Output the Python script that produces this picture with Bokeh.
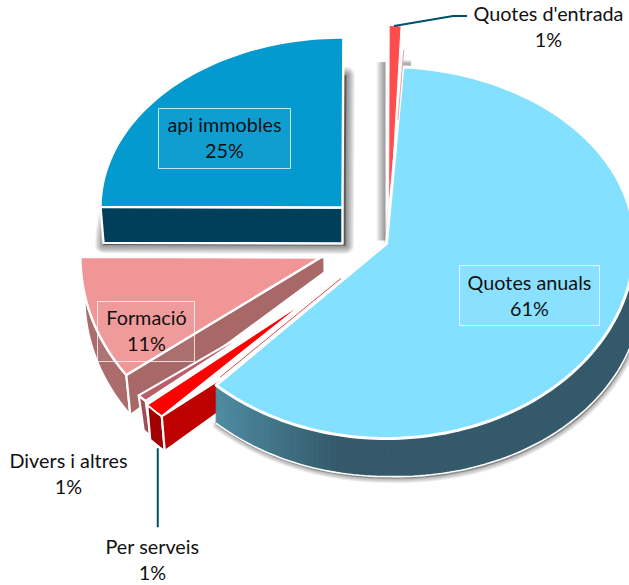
import math
from bokeh.plotting import figure
from bokeh.models import Range1d
from bokeh.core.properties import value
from bokeh.embed import file_html
from bokeh.resources import INLINE

# ---- data -----------------------------------------------------------------
categories = ["Quotes anuals", "Per serveis", "Divers i altres", "Formació", "api immobles", "Quotes d'entrada"]
shares = [61, 1, 1, 11, 25, 1]
top_colors = ["#84E0FF", "#FF0000", "#B8606A", "#F09696", "#0499CF", "#FF4D4D"]
side_colors = ["#33596A", "#BE0000", "#A04F58", "#A86868", "#003F5A", "#C03A3A"]
rim_colors = ["#33596A", "#A00000", "#A04F58", "#AC6C6C", "#003F5A", "#C03A3A"]
label_texts = ["Quotes anuals", "Per serveis", "Divers i altres", "Formació", "api immobles", "Quotes d'entrada"]
start_angle = 3.8

# ---- layout (reference pixels) --------------------------------------------
W, H = 629, 585
geo = {
    "Quotes anuals":    dict(c=(386, 243), rx=248, rb=177, rf=195, d=38, sx=0, ad=38),
    "Per serveis":      dict(c=(309, 298), rx=215, rb=160, rf=162, d=35, sx=3, ad=23, face=(307, 323), hi=2),
    "Divers i altres":  dict(c=(268, 320), rx=168, rb=120, rf=118, d=35, sx=5, ad=10),
    "Formació":         dict(c=(320, 257), rx=240, rb=170, rf=200, d=40, sx=4, ad=15, lo=3.4),
    "api immobles":     dict(c=(342, 207), rx=242, rb=170, rf=170, d=36, sx=0, ad=36),
    "Quotes d'entrada": dict(c=(388, 243), rx=190, rb=218, rf=218, d=0, sx=0, ad=0),
}
labels = {
    "Quotes anuals":    dict(xy=(529, 281.5), box=(459, 599, 265, 325)),
    "api immobles":     dict(xy=(224, 123.5), box=(158, 290, 108, 168)),
    "Formació":         dict(xy=(146, 316.5), box=(97, 194, 301, 361)),
    "Quotes d'entrada": dict(xy=(548, 12.5)),
    "Divers i altres":  dict(xy=(68, 459.5)),
    "Per serveis":      dict(xy=(152, 545.5)),
}
LEADER = "#00506B"
FONT = value("Lato")
FS = "19.8px"
LH = 26

p = figure(width=W, height=H, x_range=Range1d(0, W), y_range=Range1d(H, 0),
           x_axis_location=None, y_axis_location=None, toolbar_location=None,
           output_backend="svg", min_border=0, outline_line_color=None,
           background_fill_color="white", border_fill_color="white")
p.xgrid.visible = False
p.ygrid.visible = False

# angles from the values
spans = {}
t = start_angle
for name, s in zip(categories, shares):
    spans[name] = (t, t + s * 3.6)
    t += s * 3.6


def pt(g, a):
    r = math.radians(a)
    c, s = math.cos(r), math.sin(r)
    return g["c"][0] + g["rx"] * s, g["c"][1] - c * (g["rb"] if c > 0 else g["rf"])


def arc(g, a0, a1, n=None):
    n = n or max(3, int(abs(a1 - a0) / 1.5))
    return [pt(g, a0 + (a1 - a0) * i / n) for i in range(n + 1)]


def poly(pts, **kw):
    p.patch([q[0] for q in pts], [q[1] for q in pts], **kw)


def span(name):
    g = geo[name]
    a0, a1 = spans[name]
    return a0 + g.get("lo", 0), a1 + g.get("hi", 0)


def drop(pts, g):
    return [(x + g["sx"], y + g["d"]) for x, y in pts]


def drop_main(pts, g):
    # perspective: the rim grows towards the right
    out = []
    for x, y in pts:
        e = max(0.0, x - g["c"][0]) * 0.03
        out.append((x + e, y + g["d"] + e))
    return out


def top_shape(name):
    g = geo[name]
    a0, a1 = span(name)
    return [g["c"]] + arc(g, a0, a1)


def shadow(pts, dx, dy, steps=6, alpha=0.035, w=2.2):
    shifted = [(x + dx, y + dy) for x, y in pts]
    for k in range(steps, 0, -1):
        poly(shifted, fill_color="black", fill_alpha=alpha, line_color="black",
             line_alpha=alpha, line_width=k * w, line_join="round")


# soft shadows beneath the solids
g = geo["api immobles"]
a0, a1 = span("api immobles")
shadow([(g["c"][0], g["c"][1] + g["ad"])] + drop(arc(g, a0, a1), g), 3, 2, steps=7, alpha=0.07, w=2.4)
g = geo["Quotes anuals"]
a0, a1 = span("Quotes anuals")
shadow([g["c"]] + drop_main(arc(g, a0, a1), g), 1, 2, steps=4, alpha=0.075, w=2.2)
# the main slice's shadow on the gap beside its first edge (fades out to the left)
m0 = pt(g, a0)
for k in range(10):
    poly([(g["c"][0] - 1 - k, g["c"][1] - 3), (g["c"][0] - 1 - k, m0[1] - 5),
          (g["c"][0] - 1, m0[1] - 5), (g["c"][0] - 1, g["c"][1] - 3)],
         fill_color="black", fill_alpha=0.05, line_color=None)
for k in range(4):
    poly([(m0[0], m0[1] - 7 + k), (m0[0] + 8, m0[1] - 7 + k), (m0[0] + 8, m0[1]), (m0[0], m0[1])],
         fill_color="black", fill_alpha=0.09, line_color=None)


def draw_cut_face(name, colour):
    g = geo[name]
    a0, a1 = span(name)
    apex = g.get("face", g["c"])
    o = pt(g, a0)
    ob = (o[0] + g["sx"], o[1] + g["d"])
    poly([apex, (apex[0] + g["sx"], apex[1]), (apex[0] + g["sx"], apex[1] + g["ad"]), ob, o],
         fill_color=colour, line_color="white", line_width=2.2, line_join="round")


def draw_rim(name, colour):
    g = geo[name]
    a0, a1 = span(name)
    top = arc(g, a0, a1)
    poly(top + drop(top, g)[::-1], fill_color=colour, line_color="white", line_width=2.2, line_join="round")


def draw_top(name, lw=2.4):
    i = categories.index(name)
    poly(top_shape(name), fill_color=top_colors[i], line_color="white", line_width=lw, line_join="round")


# api immobles: flat front face
name = "api immobles"
i = categories.index(name)
g = geo[name]
a0, a1 = span(name)
o = pt(g, a0)
poly([o, g["c"], (g["c"][0], g["c"][1] + g["d"]), (o[0] + 3, o[1] + g["d"])],
     fill_color=side_colors[i], line_color="white", line_width=2.4, line_join="round")
draw_top(name)

# Quotes d'entrada
draw_top("Quotes d'entrada", lw=1)

# Formació
name = "Formació"
i = categories.index(name)
draw_rim(name, rim_colors[i])
draw_cut_face(name, side_colors[i])
draw_top(name)

# Divers i altres
name = "Divers i altres"
i = categories.index(name)
draw_rim(name, rim_colors[i])
draw_top(name, lw=2.2)

# Per serveis
name = "Per serveis"
i = categories.index(name)
draw_rim(name, rim_colors[i])
draw_cut_face(name, side_colors[i])
draw_top(name, lw=1.6)

# Quotes anuals: rim with a lighter gradient at its left end
name = "Quotes anuals"
i = categories.index(name)
g = geo[name]
a0, a1 = span(name)
pts = arc(g, a0, a1, 160)
low = drop_main(pts, g)
light = (0x50, 0x8E, 0xA5)
dark = (0x33, 0x59, 0x6A)
for k in range(len(pts) - 1):
    f = min(1.0, max(0.0, (pts[k][0] - 213) / 130))
    col = tuple(int(light[j] + (dark[j] - light[j]) * f) for j in range(3))
    hexc = "#%02X%02X%02X" % col
    poly([pts[k], pts[k + 1], low[k + 1], low[k]], fill_color=hexc, line_color=hexc, line_width=0.8)
p.line([q[0] for q in low], [q[1] for q in low], line_color="white", line_width=1.6)
draw_top(name, lw=3)

# hairlines along the big slice's cut edges
g = geo["Quotes anuals"]
c0 = pt(g, a1)
p.line([g["c"][0] - 48 * 0.95, c0[0] + 4], [g["c"][1] + 35, c0[1] - 8], line_color="#E04A50", line_width=1)
c1 = pt(g, a0)
p.line([c1[0] - 5, c1[0] + 0.8], [c1[1] + 53, c1[1] - 17], line_color="#F0A0A8", line_width=1)

# leader lines
e = pt(geo["Quotes d'entrada"], span("Quotes d'entrada")[1])
p.line([e[0] - 7, e[0] + 52, e[0] + 66], [e[1], e[1] - 10, e[1] - 10], line_color=LEADER, line_width=2)
s = pt(geo["Per serveis"], span("Per serveis")[0])
p.line([s[0] - 4, s[0] - 4], [s[1] + 32, s[1] + 111], line_color=LEADER, line_width=2)

# label boxes and text
for name in label_texts:
    L = labels[name]
    i = categories.index(name)
    if "box" in L:
        x0, x1, y0, y1 = L["box"]
        p.quad(left=x0, right=x1, top=y0, bottom=y1, fill_color="white", fill_alpha=0.05,
               line_color="white", line_alpha=0.75, line_width=1)
    x, y = L["xy"]
    p.text([x], [y], text=[name], text_font=FONT, text_font_size=FS, text_color="#111111",
           text_align="center", text_baseline="middle")
    p.text([x], [y + LH], text=[f"{shares[i]}%"], text_font=FONT, text_font_size=FS, text_color="#111111",
           text_align="center", text_baseline="middle")

open("out.html", "w").write(file_html(p, INLINE))
